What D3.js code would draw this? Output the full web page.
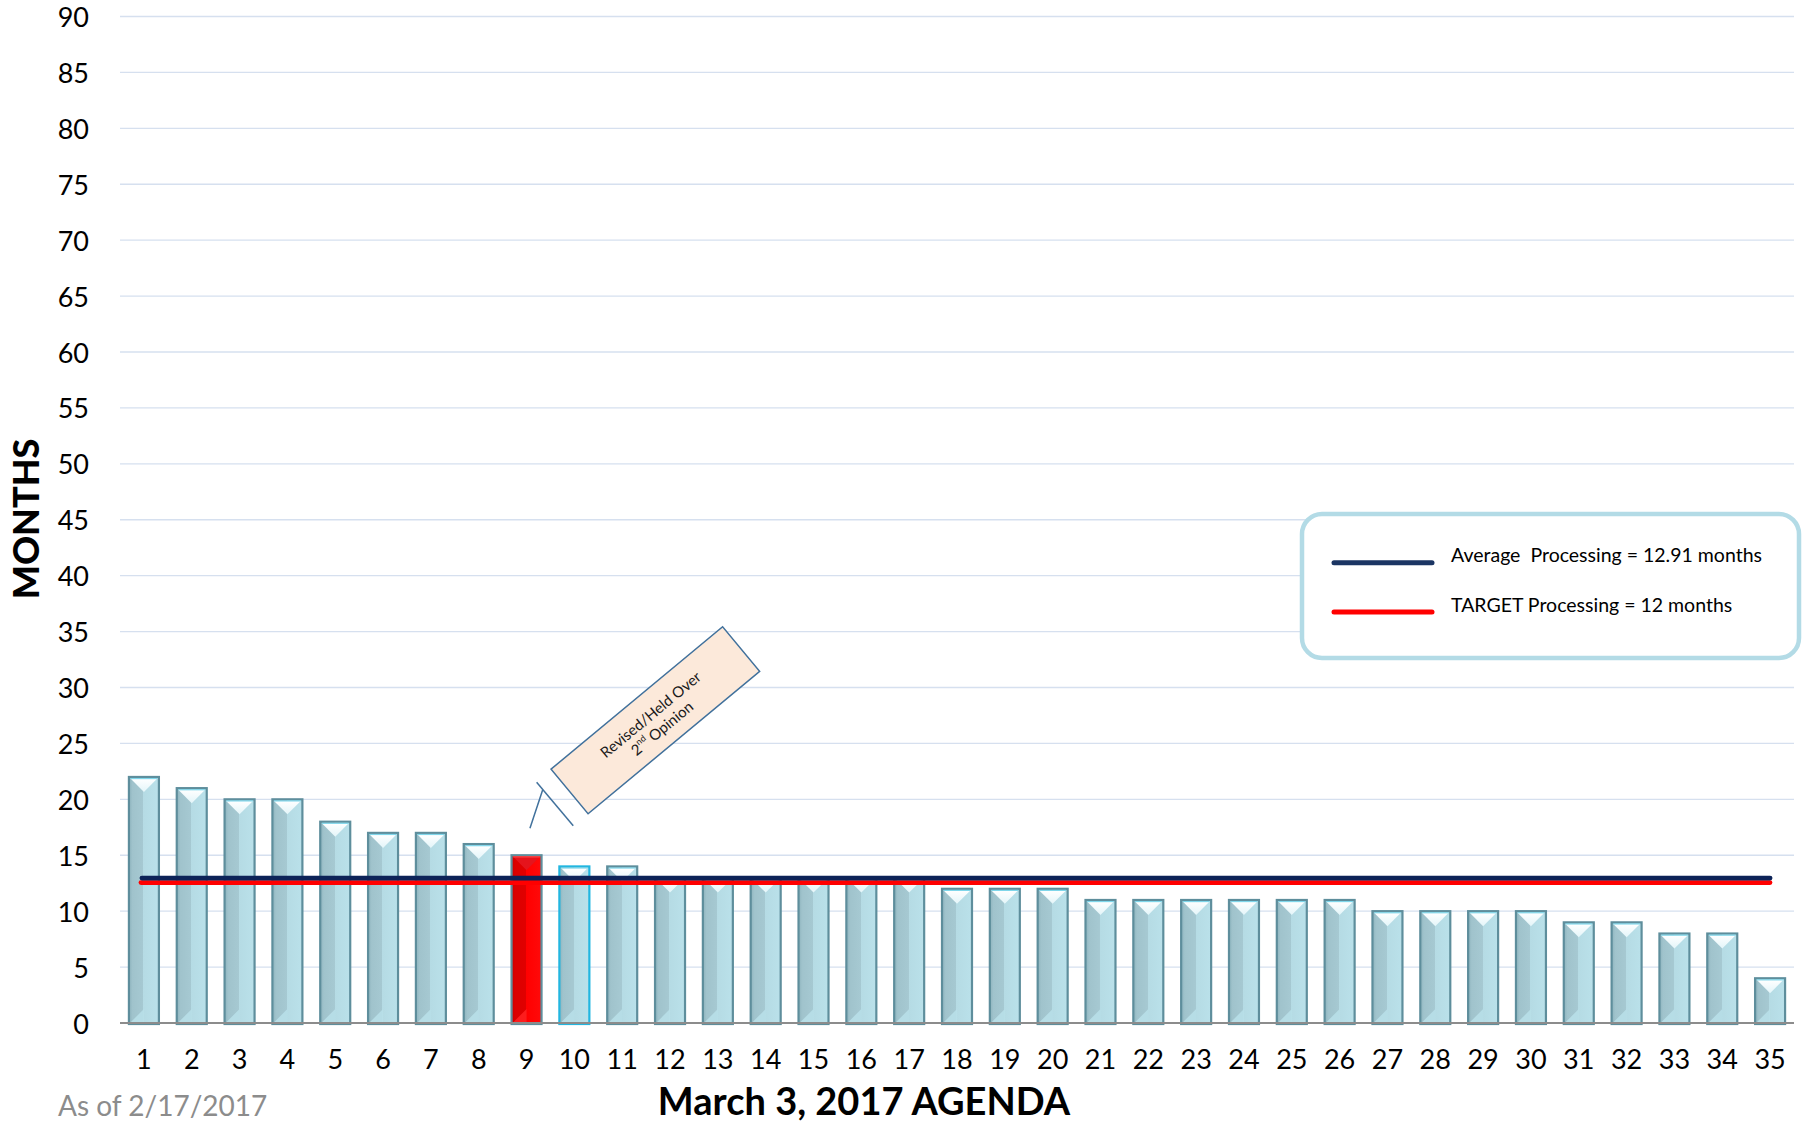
<!DOCTYPE html>
<html>
<head>
<meta charset="utf-8">
<script src="https://cdn.jsdelivr.net/npm/d3@7"></script>
<style>
  html, body { margin: 0; padding: 0; background: #ffffff; }
  svg { display: block; }
  text { font-family: Lato, "Open Sans", sans-serif; }
</style>
</head>
<body>
<svg id="chart" width="1810" height="1125"></svg>
<script>
// ---------------- DATA ----------------
const categories = d3.range(1, 36).map(String);
const months = [22, 21, 20, 20, 18, 17, 17, 16, 15, 14, 14, 13, 13, 13, 13, 13, 13,
                12, 12, 12, 11, 11, 11, 11, 11, 11, 10, 10, 10, 10, 9, 9, 8, 8, 4];
const yTicks = d3.range(0, 95, 5);
const averageValue = 12.91;
const targetValue = 12;
const redCategories = ["9"];
const cyanBorderCategories = ["10"];
const legendLabels = ["Average  Processing = 12.91 months", "TARGET Processing = 12 months"];
const calloutLines = ["Revised/Held Over", "2nd Opinion"];
const calloutCategory = "9";
const xTitle = "March 3, 2017 AGENDA";
const yTitle = "MONTHS";
const noteText = "As of 2/17/2017";

// ---------------- LAYOUT ----------------
const svg = d3.select("#chart");
const plotLeft = 120, plotRight = 1794, plotTop = 16.5, plotBottom = 1023;

const x = d3.scaleBand().domain(categories).range([plotLeft, plotRight])
  .paddingInner(0.373).paddingOuter(0.1865);
const y = d3.scaleLinear().domain([0, 90]).range([plotBottom, plotTop]);

const data = categories.map((c, i) => ({ cat: c, value: months[i] }));

// ---------------- DEFS ----------------
const defs = svg.append("defs");
function bodyGrad(id, stops) {
  const g = defs.append("linearGradient").attr("id", id)
    .attr("x1", "0%").attr("x2", "100%").attr("y1", "0%").attr("y2", "0%");
  stops.forEach(s => g.append("stop").attr("offset", s[0]).attr("stop-color", s[1]));
}
bodyGrad("blueBody", [["0%", "#8db3bd"], ["12%", "#a0c3cc"], ["48%", "#a6c9d2"], ["48%", "#b5dbe4"], ["100%", "#bae1ea"]]);
bodyGrad("redBody", [["0%", "#c80000"], ["12%", "#dc0000"], ["48%", "#e00000"], ["48%", "#ff0000"], ["100%", "#ff0a0a"]]);
const tg = defs.append("linearGradient").attr("id", "blueTop")
  .attr("x1", "0%").attr("x2", "0%").attr("y1", "0%").attr("y2", "100%");
tg.append("stop").attr("offset", "0%").attr("stop-color", "#ffffff");
tg.append("stop").attr("offset", "100%").attr("stop-color", "#e3f5f9");

// ---------------- GRIDLINES ----------------
svg.append("g").selectAll("line").data(yTicks.filter(t => t > 0)).join("line")
  .attr("x1", plotLeft).attr("x2", plotRight)
  .attr("y1", d => y(d)).attr("y2", d => y(d))
  .attr("stroke", "#d6e0ef").attr("stroke-width", 1.3);

// ---------------- Y AXIS LABELS ----------------
svg.append("g").selectAll("text").data(yTicks).join("text")
  .attr("x", 89).attr("y", d => y(d))
  .attr("text-anchor", "end").attr("dominant-baseline", "central")
  .attr("font-size", 27).attr("fill", "#000")
  .text(d => d);

// ---------------- BARS ----------------
const bw = x.bandwidth();
const bars = svg.append("g").selectAll("g").data(data).join("g")
  .attr("transform", d => `translate(${x(d.cat)},${y(d.value)})`);

bars.append("rect")
  .attr("x", 0).attr("y", 0).attr("width", bw)
  .attr("height", d => plotBottom - y(d.value) + 1)
  .attr("fill", d => redCategories.includes(d.cat) ? "url(#redBody)" : "url(#blueBody)")
  .attr("stroke", d => cyanBorderCategories.includes(d.cat) ? "#22b6e0" : "#5e8e9c")
  .attr("stroke-width", 2.2);

// bottom-left lighter bevel
bars.append("path")
  .attr("d", d => {
    const h = plotBottom - y(d.value);
    return `M1.5,${h - 0.5}L${bw / 2},${h - 0.5}L${bw / 2},${Math.max(h - 14, 15)}Z`;
  })
  .attr("fill", d => redCategories.includes(d.cat) ? "#ff2020" : "#b8dfe8")
  .attr("opacity", 0.9);

// top bevel triangle
bars.append("path")
  .attr("d", `M1.6,1.6L${bw - 1.6},1.6L${bw / 2},15Z`)
  .attr("fill", d => redCategories.includes(d.cat) ? "#e5141c" : "url(#blueTop)");

// inner highlight line at top
bars.append("line")
  .attr("x1", 1.6).attr("x2", bw - 1.6).attr("y1", 1.6).attr("y2", 1.6)
  .attr("stroke", d => redCategories.includes(d.cat) ? "#ff4a4a" : "#7fd6ea")
  .attr("stroke-width", 1.2);

// ---------------- BASELINE ----------------
svg.append("line")
  .attr("x1", plotLeft).attr("x2", plotRight)
  .attr("y1", plotBottom).attr("y2", plotBottom)
  .attr("stroke", "#8c8c8c").attr("stroke-width", 2);

// ---------------- REFERENCE LINES ----------------
const lineX1 = x(categories[0]) + bw / 2 - 3;
const lineX2 = x(categories[categories.length - 1]) + bw / 2;
// target line drawn as a band just beneath the average line (as in the source)
svg.append("line")
  .attr("x1", lineX1).attr("x2", lineX2)
  .attr("y1", y(averageValue) + 4).attr("y2", y(averageValue) + 4)
  .attr("stroke", "#ff0000").attr("stroke-width", 4.6).attr("stroke-linecap", "round");
svg.append("line")
  .attr("x1", lineX1 + 1).attr("x2", lineX2)
  .attr("y1", y(averageValue) - 0.5).attr("y2", y(averageValue) - 0.5)
  .attr("stroke", "#0d2358").attr("stroke-width", 4.8).attr("stroke-linecap", "round");

// ---------------- X AXIS LABELS ----------------
svg.append("g").selectAll("text").data(categories).join("text")
  .attr("x", d => x(d) + bw / 2).attr("y", 1058)
  .attr("text-anchor", "middle").attr("dominant-baseline", "central")
  .attr("font-size", 27).attr("fill", "#000")
  .text(d => d);

// ---------------- TITLES ----------------
svg.append("text")
  .attr("x", 864).attr("y", 1115)
  .attr("text-anchor", "middle")
  .attr("font-size", 38).attr("font-weight", "bold").attr("fill", "#000")
  .text(xTitle);

svg.append("text")
  .attr("transform", "translate(25,519) rotate(-90)")
  .attr("text-anchor", "middle").attr("dominant-baseline", "central")
  .attr("font-size", 36).attr("font-weight", "900").attr("fill", "#000")
  .text(yTitle);

svg.append("text")
  .attr("x", 58).attr("y", 1105)
  .attr("dominant-baseline", "central")
  .attr("font-size", 28).attr("fill", "#8c8c8c")
  .text(noteText);

// ---------------- CALLOUT ----------------
const cd = data.find(d => d.cat === calloutCategory);
const tipX = x(cd.cat) + bw / 2 + 3.4, tipY = y(cd.value) - 27;
const callout = svg.append("g");
// leader line and accent bar
callout.append("line")
  .attr("x1", tipX).attr("y1", tipY).attr("x2", tipX + 12.7).attr("y2", tipY - 38.3)
  .attr("stroke", "#41719c").attr("stroke-width", 1.5);
callout.append("line")
  .attr("x1", tipX + 6.7).attr("y1", tipY - 46).attr("x2", tipX + 43.3).attr("y2", tipY - 2.6)
  .attr("stroke", "#41719c").attr("stroke-width", 1.5);
const box = callout.append("g")
  .attr("transform", `translate(${tipX + 125.4},${tipY - 108}) rotate(-39.7)`);
box.append("rect")
  .attr("x", -111.5).attr("y", -29).attr("width", 223).attr("height", 58)
  .attr("fill", "#fce9da").attr("stroke", "#41719c").attr("stroke-width", 1.5);
box.append("text")
  .attr("x", 0).attr("y", -8).attr("text-anchor", "middle").attr("dominant-baseline", "central")
  .attr("font-size", 15).attr("fill", "#1a1a1a")
  .text(calloutLines[0]);
const t2 = box.append("text")
  .attr("x", 0).attr("y", 10).attr("text-anchor", "middle").attr("dominant-baseline", "central")
  .attr("font-size", 15).attr("fill", "#1a1a1a");
t2.append("tspan").text("2");
t2.append("tspan").attr("font-size", 9).attr("dy", -5).text("nd");
t2.append("tspan").attr("dy", 5).text(" Opinion");

// ---------------- LEGEND ----------------
const legend = svg.append("g");
legend.append("rect")
  .attr("x", 1302).attr("y", 514).attr("width", 497).attr("height", 144)
  .attr("rx", 20).attr("ry", 20)
  .attr("fill", "#ffffff").attr("stroke", "#b3dbe6").attr("stroke-width", 4.5);
const legendColors = ["#1b3563", "#ff0000"];
const legendY = [562.7, 612];
legendLabels.forEach((lab, i) => {
  legend.append("line")
    .attr("x1", 1334).attr("x2", 1432).attr("y1", legendY[i]).attr("y2", legendY[i])
    .attr("stroke", legendColors[i]).attr("stroke-width", 5).attr("stroke-linecap", "round");
  legend.append("text")
    .attr("x", 1451).attr("y", legendY[i] - 8)
    .attr("dominant-baseline", "central")
    .attr("font-size", 19.5).attr("fill", "#000")
    .attr("xml:space", "preserve")
    .style("white-space", "pre")
    .text(lab);
});
</script>
</body>
</html>
